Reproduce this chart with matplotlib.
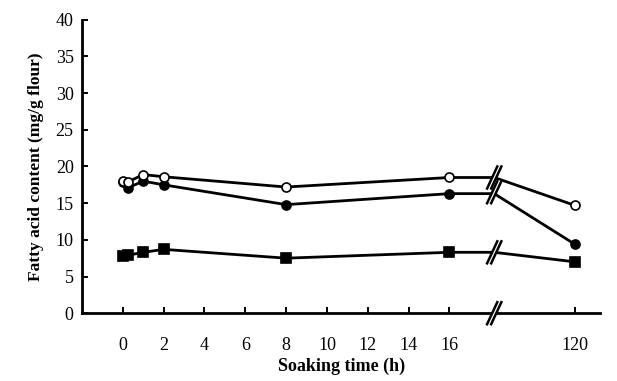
import matplotlib.pyplot as plt
import numpy as np

# Soaking time (h); 120 h sits after an axis break
hours = [0, 0.25, 1, 2, 8, 16, 120]
tick_hours = [0, 2, 4, 6, 8, 10, 12, 14, 16, 120]

open_circ = [18.0, 17.9, 18.9, 18.6, 17.2, 18.5, 14.7]
filled_circ = [17.9, 17.1, 18.0, 17.5, 14.8, 16.3, 9.4]
squares = [7.8, 7.9, 8.3, 8.7, 7.5, 8.3, 7.0]

BREAK_X = 18.2
POS_120 = 22.15


def xpos(h):
    return POS_120 if h == 120 else h


plt.rcParams["font.family"] = ["Liberation Serif", "DejaVu Serif"]
fig = plt.figure(figsize=(6.17, 3.81), dpi=100)
ax = fig.add_axes([0.133, 0.178, 0.84, 0.77])

series = [
    (filled_circ, dict(marker="o", mfc="black", ms=6.5)),
    (open_circ, dict(marker="o", mfc="white", ms=6.5)),
    (squares, dict(marker="s", mfc="black", ms=6.5)),
]

for vals, style in series:
    xs = [xpos(h) for h in hours]
    # continue the 16 h value up to the break, then on to 120 h
    lx = xs[:-1] + [BREAK_X, xs[-1]]
    ly = vals[:-1] + [vals[-2], vals[-1]]
    ax.plot(lx, ly, color="black", lw=2.0, zorder=2)
    ax.plot(xs, vals, ls="none", color="black", mec="black", mew=1.2,
            zorder=3, **style)


def draw_break(y, dy=1.5, dx=0.25, gap=0.2):
    ax.fill([BREAK_X - gap / 2 - dx + 0.04, BREAK_X - gap / 2 + dx + 0.04,
             BREAK_X + gap / 2 + dx - 0.04, BREAK_X + gap / 2 - dx - 0.04],
            [y - dy, y + dy, y + dy, y - dy], color="white", zorder=4,
            clip_on=False)
    for off in (-gap / 2, gap / 2):
        ax.plot([BREAK_X + off - dx, BREAK_X + off + dx], [y - dy, y + dy],
                color="black", lw=1.8, zorder=5, clip_on=False)


draw_break(open_circ[-2])
draw_break(filled_circ[-2] + 0.2)
draw_break(squares[-2])
draw_break(0)

ax.set_xlim(-2.0, 23.4)
ax.set_ylim(0, 40)
ax.set_xticks([xpos(h) for h in tick_hours])
ax.set_xticklabels([str(h) for h in tick_hours])
ax.set_yticks(np.arange(0, 41, 5))

for s in ("top", "right"):
    ax.spines[s].set_visible(False)
for s in ("left", "bottom"):
    ax.spines[s].set_linewidth(2.0)

ax.tick_params(axis="both", direction="in", length=4, width=1.4,
               labelsize=13)
ax.tick_params(axis="x", pad=17)
ax.tick_params(axis="y", pad=6)

ax.set_xlabel("Soaking time (h)", fontsize=13, fontweight="bold", labelpad=3)
ax.set_ylabel("Fatty acid content (mg/g flour)", fontsize=12.5,
              fontweight="bold", labelpad=8)

fig.savefig("out.png", dpi=100)
